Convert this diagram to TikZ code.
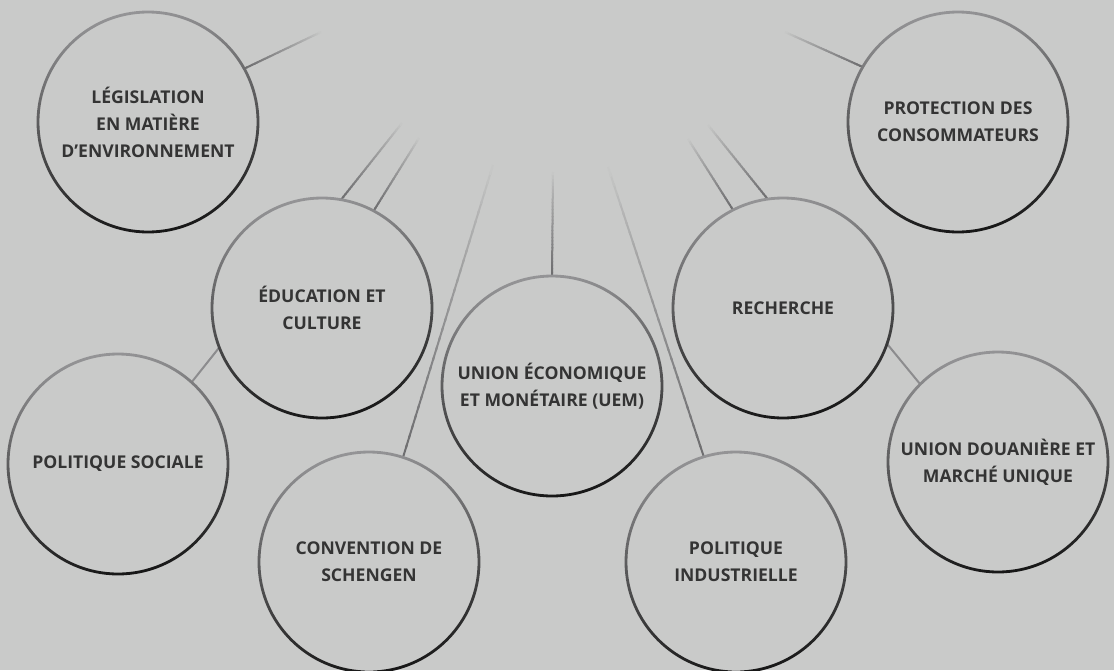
\documentclass[tikz,border=0pt]{standalone}
\usepackage{fontspec}
\setmainfont{Open Sans}
\usetikzlibrary{calc}

\begin{document}
\begin{tikzpicture}[x=1pt, y=-1pt,
  bubble/.style={circle, minimum size=220pt, inner sep=0pt, outer sep=0pt,
    align=center, text=labelgray, font=\bfseries\fontsize{17.6}{27}\selectfont},
  spoke/.style={line width=2pt, line cap=butt},
  link/.style={line width=2pt, draw=linkgray}]

%─────────────
% Controls
%─────────────
\def\fadesteps{30}   % Pieces per fading spoke (more = smoother fade)
\definecolor{paper}{RGB}{201,202,201}       % Page background
\definecolor{labelgray}{RGB}{52,52,52}      % Bubble text
\definecolor{ringtop}{RGB}{148,148,150}     % Outline, upper part
\definecolor{ringmid}{RGB}{100,100,102}     % Outline, middle
\definecolor{ringbottom}{RGB}{22,22,22}     % Outline, lower part
\definecolor{spokegray}{RGB}{108,108,110}   % Spoke colour at the bubble
\definecolor{linkgray}{RGB}{140,140,142}    % Short bubble-to-bubble links

%─────────────
% Canvas
%─────────────
\useasboundingbox (0,0) rectangle (1114,670);
\fill[paper] (0,0) rectangle (1114,670);

%───────────────────────────────────────────────────────
% Bubbles (text only, outlines are shaded further down)
%───────────────────────────────────────────────────────
\node[bubble] (leg)  at (148,122) {LÉGISLATION\\EN MATIÈRE\\D’ENVIRONNEMENT};
\node[bubble] (prot) at (958,122) {PROTECTION DES\\CONSOMMATEURS};
\node[bubble] (edu)  at (322,308) {ÉDUCATION ET\\CULTURE};
\node[bubble] (rech) at (783,308) {RECHERCHE};
\node[bubble] (uem)  at (552,386) {UNION ÉCONOMIQUE\\ET MONÉTAIRE (UEM)};
\node[bubble] (soc)  at (118,464) {POLITIQUE SOCIALE};
\node[bubble] (dou)  at (998,462) {UNION DOUANIÈRE ET\\MARCHÉ UNIQUE};
\node[bubble] (sch)  at (369,562) {CONVENTION DE\\SCHENGEN};
\node[bubble] (ind)  at (736,562) {POLITIQUE\\INDUSTRIELLE};

% Free ends of the spokes (they fade out toward the top centre)
\coordinate (legEnd)   at (321,32);
\coordinate (protEnd)  at (785,32);
\coordinate (eduEndA)  at (402,123);
\coordinate (eduEndB)  at (419,138);
\coordinate (rechEndA) at (708,125);
\coordinate (rechEndB) at (688,139);
\coordinate (uemEnd)   at (553,172);
\coordinate (schEnd)   at (493,165);
\coordinate (indEnd)   at (608,167);

%─────────────────────────────────────────────────────────────
% Command for a spoke that fades into the page:
% - #1 = start point on a bubble
% - #2 = free end
%─────────────────────────────────────────────────────────────
\newcommand{\drawFadingSpoke}[2]{%
  \foreach \k in {1,...,\fadesteps} {
    \pgfmathsetmacro{\ta}{(\k-1)/\fadesteps}
    \pgfmathsetmacro{\tb}{min(1,\k/\fadesteps+0.01)}
    \pgfmathtruncatemacro{\mix}{100*(1-(\k-0.5)/\fadesteps)^0.8}
    \draw[spoke, spokegray!\mix!paper] ($(#1)!\ta!(#2)$) -- ($(#1)!\tb!(#2)$);
  }
}

\drawFadingSpoke{leg.29}{legEnd}
\drawFadingSpoke{prot.150}{protEnd}
\drawFadingSpoke{edu.80}{eduEndA}
\drawFadingSpoke{edu.62}{eduEndB}
\drawFadingSpoke{rech.98}{rechEndA}
\drawFadingSpoke{rech.117}{rechEndB}
\drawFadingSpoke{uem.90}{uemEnd}
\drawFadingSpoke{sch.72}{schEnd}
\drawFadingSpoke{ind.107}{indEnd}

% Short links between neighbours
\draw[link] (soc.48) -- (edu.201);
\draw[link] (dou.135) -- (rech.341);

%─────────────
% Outlines: light on top, dark at the bottom
%─────────────
\foreach \b in {leg,prot,edu,rech,uem,soc,dou,sch,ind} {
  \shade[top color=ringtop, middle color=ringmid, bottom color=ringbottom,
    shading angle=8, even odd rule]
    (\b.center) circle (111.4pt) circle (108.6pt);
}

\end{tikzpicture}
\end{document}
